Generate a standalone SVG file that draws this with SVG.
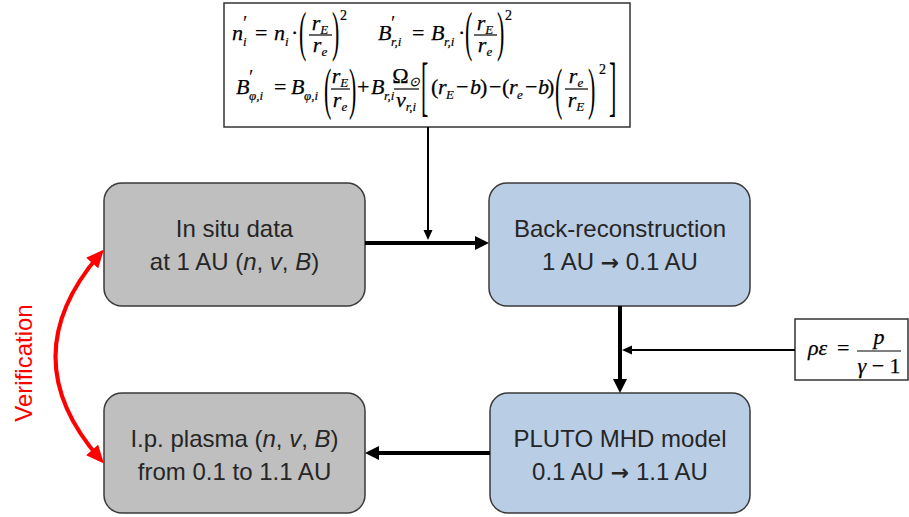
<svg xmlns="http://www.w3.org/2000/svg" width="909" height="517" viewBox="0 0 909 517">
<style>
.box{stroke:#3a3a3a;stroke-width:1.5}
.gray{fill:#bfbfbf}
.blue{fill:#b9cde5}
.lbl{font-family:"Liberation Sans",Arial,sans-serif;font-size:24px;fill:#262626;text-anchor:middle}
.arr{font-family:"DejaVu Sans",sans-serif;font-weight:bold;font-size:22px}
.it{font-style:italic}
.eqbox{fill:#fff;stroke:#333;stroke-width:1.5}
.m{font-family:"Liberation Serif","Times New Roman",serif;font-size:22px;fill:#000;stroke:#000;stroke-width:0.25}
.mi{font-family:"Liberation Serif","Times New Roman",serif;font-size:22px;font-style:italic;fill:#000;stroke:#000;stroke-width:0.25}
.s{font-family:"Liberation Serif","Times New Roman",serif;font-size:13px;font-style:italic;fill:#000;stroke:#000;stroke-width:0.2}
.pr{font-family:"Liberation Serif","Times New Roman",serif;font-size:20px;fill:#000}
.sup{font-family:"Liberation Serif","Times New Roman",serif;font-size:14px;fill:#000;stroke:#000;stroke-width:0.2}
.ctr{text-anchor:middle}
.bar{stroke:#000;stroke-width:1.2}
.big{font-family:"Liberation Serif","Times New Roman",serif;font-size:22px;fill:#000}
.thick{stroke:#000;stroke-width:4;fill:none}
.thin{stroke:#000;stroke-width:2;fill:none}
</style>
<defs>
<marker id="hk" markerUnits="userSpaceOnUse" markerWidth="14" markerHeight="14" refX="0" refY="7" orient="auto"><path d="M0,0 L14,7 L0,14 z" fill="#000"/></marker>
<marker id="hn" markerUnits="userSpaceOnUse" markerWidth="10" markerHeight="10" refX="0" refY="4.5" orient="auto"><path d="M0,0 L10,4.5 L0,9 z" fill="#000"/></marker>
<marker id="hr" markerUnits="userSpaceOnUse" markerWidth="18" markerHeight="16" refX="12" refY="8" orient="auto-start-reverse"><path d="M0,0 L18,8 L0,16 z" fill="#ff0000"/></marker>
</defs>

<g id="eq-box">
<rect class="eqbox" x="224" y="3" width="406" height="124"/>
<!-- line 1, equation 1 -->
<text class="mi" x="232" y="40">n</text>
<text class="pr" x="243" y="30">′</text>
<text class="s" x="243" y="46">i</text>
<text class="m" x="255" y="40">=</text>
<text class="mi" x="274" y="40">n</text>
<text class="s" x="285" y="46">i</text>
<text class="m" x="291" y="40">·</text>
<text class="big" transform="translate(299,50) scale(1,2.45)">(</text>
<text class="mi ctr" x="320" y="30">r<tspan class="s" dy="4">E</tspan></text>
<line class="bar" x1="309" y1="35" x2="332" y2="35"/>
<text class="mi ctr" x="320" y="52">r<tspan class="s" dy="4">e</tspan></text>
<text class="big" transform="translate(332,50) scale(1,2.45)">)</text>
<text class="sup" x="340" y="20">2</text>
<!-- line 1, equation 2 -->
<text class="mi" x="378" y="40">B</text>
<text class="pr" x="391" y="30">′</text>
<text class="s" x="391" y="46">r,i</text>
<text class="m" x="412" y="40">=</text>
<text class="mi" x="431" y="40">B</text>
<text class="s" x="444" y="46">r,i</text>
<text class="m" x="458" y="40">·</text>
<text class="big" transform="translate(465,50) scale(1,2.45)">(</text>
<text class="mi ctr" x="485" y="30">r<tspan class="s" dy="4">E</tspan></text>
<line class="bar" x1="474" y1="35" x2="497" y2="35"/>
<text class="mi ctr" x="485" y="52">r<tspan class="s" dy="4">e</tspan></text>
<text class="big" transform="translate(497,50) scale(1,2.45)">)</text>
<text class="sup" x="505" y="20">2</text>
<!-- line 2 -->
<text class="mi" x="236" y="94">B</text>
<text class="pr" x="249" y="84">′</text>
<text class="s" x="249" y="100">φ,i</text>
<text class="m" x="274" y="94">=</text>
<text class="mi" x="291" y="94">B</text>
<text class="s" x="304" y="100">φ,i</text>
<text class="big" transform="translate(324,108) scale(1,2.61)">(</text>
<text class="mi ctr" x="340" y="83">r<tspan class="s" dy="4">E</tspan></text>
<line class="bar" x1="331" y1="89" x2="350" y2="89"/>
<text class="mi ctr" x="340" y="107">r<tspan class="s" dy="4">e</tspan></text>
<text class="big" transform="translate(349,108) scale(1,2.61)">)</text>
<text class="m" x="357" y="94">+</text>
<text class="mi" x="371" y="94">B</text>
<text class="s" x="384" y="100">r,i</text>
<text class="m ctr" x="406" y="83">Ω<tspan class="s" dy="3" font-style="normal">⊙</tspan></text>
<line class="bar" x1="394" y1="89" x2="419" y2="89"/>
<text class="mi ctr" x="406" y="107">v<tspan class="s" dy="4">r,i</tspan></text>
<text class="big" transform="translate(421,108) scale(1,2.95)">[</text>
<text class="m" x="431" y="94">(</text>
<text class="mi" x="438" y="94">r</text>
<text class="s" x="446" y="99">E</text>
<text class="m" x="456" y="94">−</text>
<text class="mi" x="470" y="94">b</text>
<text class="m" x="480" y="94">)</text>
<text class="m" x="489" y="94">−</text>
<text class="m" x="502" y="94">(</text>
<text class="mi" x="509" y="94">r</text>
<text class="s" x="517" y="99">e</text>
<text class="m" x="525" y="94">−</text>
<text class="mi" x="538" y="94">b</text>
<text class="m" x="547" y="94">)</text>
<text class="big" transform="translate(555,108) scale(1,2.61)">(</text>
<text class="mi ctr" x="576" y="83">r<tspan class="s" dy="4">e</tspan></text>
<line class="bar" x1="565" y1="89" x2="588" y2="89"/>
<text class="mi ctr" x="576" y="107">r<tspan class="s" dy="4">E</tspan></text>
<text class="big" transform="translate(588,108) scale(1,2.61)">)</text>
<text class="sup" x="599" y="74">2</text>
<text class="big" transform="translate(609,108) scale(1,2.95)">]</text>
</g>

<g id="energy-box">
<rect class="eqbox" x="795" y="319" width="113" height="61"/>
<text class="mi" x="808" y="355">ρε</text>
<text class="m" x="837" y="355">=</text>
<text class="mi ctr" x="879" y="344">p</text>
<line class="bar" x1="857" y1="351" x2="901" y2="351"/>
<text class="m ctr" x="879" y="373"><tspan class="it">γ</tspan> − 1</text>
</g>

<g id="in-situ">
<rect class="box gray" x="104" y="183" width="261" height="123" rx="18"/>
<text class="lbl" x="234.5" y="237">In situ data</text>
<text class="lbl" x="234.5" y="270">at 1 AU (<tspan class="it">n</tspan>, <tspan class="it">v</tspan>, <tspan class="it">B</tspan>)</text>
</g>

<g id="back-reconstruction">
<rect class="box blue" x="489" y="183" width="261" height="123" rx="18"/>
<text class="lbl" x="620" y="237">Back-reconstruction</text>
<text class="lbl" x="620" y="270">1 AU <tspan class="arr">→</tspan> 0.1 AU</text>
</g>

<g id="pluto">
<rect class="box blue" x="490" y="393" width="260" height="120" rx="18"/>
<text class="lbl" x="620" y="447">PLUTO MHD model</text>
<text class="lbl" x="620" y="480">0.1 AU <tspan class="arr">→</tspan> 1.1 AU</text>
</g>

<g id="ip-plasma">
<rect class="box gray" x="104" y="393" width="261" height="120" rx="18"/>
<text class="lbl" x="234.5" y="447">I.p. plasma (<tspan class="it">n</tspan>, <tspan class="it">v</tspan>, <tspan class="it">B</tspan>)</text>
<text class="lbl" x="234.5" y="480">from 0.1 to 1.1 AU</text>
</g>

<g id="verification-label">
<text transform="translate(32,363) rotate(-90)" font-family="Liberation Sans,Arial,sans-serif" font-size="24" fill="#ff0000" text-anchor="middle">Verification</text>
</g>

<g id="connectors">
<line class="thin" x1="428" y1="127" x2="428" y2="230" marker-end="url(#hn)"/>
<line class="thick" x1="365" y1="243" x2="475" y2="243" marker-end="url(#hk)"/>
<line class="thick" x1="620" y1="306" x2="620" y2="379" marker-end="url(#hk)"/>
<line class="thin" x1="795" y1="350" x2="632" y2="350" marker-end="url(#hn)"/>
<line class="thick" x1="490" y1="453" x2="379" y2="453" marker-end="url(#hk)"/>
<path d="M 100 254 Q 11 357 100 459" stroke="#ff0000" stroke-width="4" fill="none" marker-start="url(#hr)" marker-end="url(#hr)"/>
</g>
</svg>
